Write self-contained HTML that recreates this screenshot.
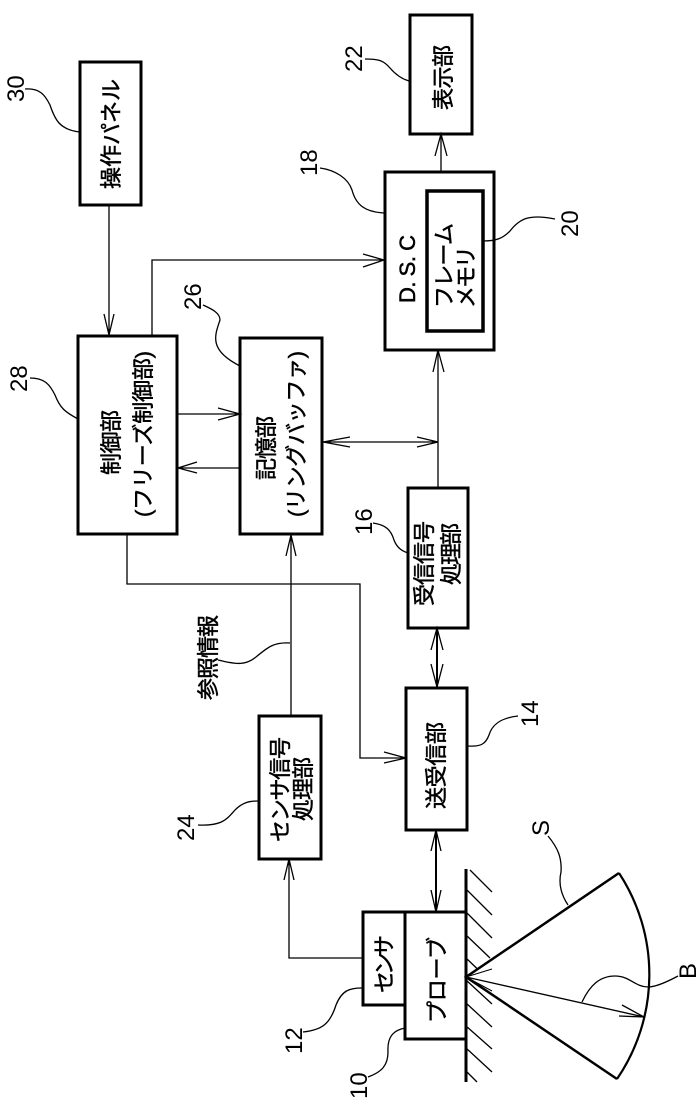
<!DOCTYPE html>
<html><head><meta charset="utf-8"><style>
html,body{margin:0;padding:0;background:#fff}
svg{display:block}
.b{fill:none;stroke:#000;stroke-width:3}
.t{fill:none;stroke:#000;stroke-width:1.3}
.m{fill:none;stroke:#000;stroke-width:2}
text{fill:#000;font-family:"Liberation Sans","Noto Sans CJK JP",sans-serif}
.j{font-size:22px;stroke:#000;stroke-width:.5}
.n{font-size:24px}
</style></head><body>
<svg width="697" height="1099" viewBox="0 0 697 1099" xmlns="http://www.w3.org/2000/svg">
<rect width="697" height="1099" fill="#fff"/>
<!-- boxes -->
<g class="b">
<rect x="80" y="62" width="61" height="143"/>
<rect x="78" y="336" width="99" height="198"/>
<rect x="240" y="338" width="82" height="196"/>
<rect x="410" y="15" width="62" height="119"/>
<rect x="385" y="172" width="109" height="178"/>
<rect x="427" y="191" width="56" height="140" stroke-width="3.5"/>
<rect x="408" y="488" width="60" height="140"/>
<rect x="406" y="688" width="61" height="142"/>
<rect x="259" y="716" width="62" height="143"/>
<rect x="363" y="912" width="42" height="93"/>
<rect x="405" y="912" width="61" height="127"/>
</g>
<path class="b" d="M466 869V1082" stroke-width="3.5"/>
<!-- connectors -->
<g class="t">
<path d="M109 205V335M104 314L109 335L114 314"/>
<path d="M152 336V260H384M363 254L384 260L363 267"/>
<path d="M177 414H240M218 408L240 414L218 420"/>
<path d="M240 468H178M197 462L178 468L197 473"/>
<path d="M322 442H438M350 437L323 442L350 447M417 437L438 442L417 447"/>
<path d="M435 156L441 134L447 156"/>
<path d="M127 534V584H360V758H406M384 752L406 758L384 763"/>
<path d="M291 716V535M286 556L291 535L296 556"/>
<path d="M363 958H289V859M284 880L289 859L294 880"/>
<path d="M433 372L438 350L444 372"/>
<path d="M431 650L437 628L443 650M431 664L437 687L443 664"/>
<path d="M431 851L436 830L441 851M431 890L436 912L441 890"/>
</g>
<g class="t">
<path d="M438 487V350"/>
<path d="M441 172V134"/>
</g>
<g class="m">
<path d="M437 628V687"/>
<path d="M436 830V912"/>
</g>
<!-- hatching -->
<g class="t">
<path d="M470 870L492 892M466 889L492 915M466 912L492 938M466 935L490 958M466 958L490 981M466 980L492 1004M466 1003L492 1027M466 1026L492 1049M466 1048L492 1072M465 1070L477 1082"/>
</g>
<!-- sector -->
<path d="M619 873L466 977L617 1079" fill="#fff" stroke="#000" stroke-width="2.5"/>
<path d="M619 873A185 185 0 0 1 617 1079" fill="none" stroke="#000" stroke-width="2.2"/>
<path class="t" d="M466 977L644 1017M622 1005L644 1017L619 1016"/>
<path d="M466 977L492 969M466 977L492 991" stroke="#000" stroke-width="1"/>
<!-- leaders -->
<g class="t">
<path d="M25 89C40 88 45 95 50 105C55 120 60 130 80 132"/>
<path d="M30 378C45 378 50 385 55 395C60 408 65 412 78 419"/>
<path d="M203 305C212 309 220 313 220 320C215 335 208 350 240 366"/>
<path d="M320 168C335 170 348 178 352 190C356 205 365 212 384 213"/>
<path d="M365 59C378 59 383 60 390 68C396 75 402 79 409 81"/>
<path d="M483 241C497 241 503 238 510 231C520 218 530 214 555 219"/>
<path d="M373 523C386 525 391 530 394 540C397 548 402 551 408 553"/>
<path d="M468 746C482 747 486 743 489 735C492 725 500 718 518 716"/>
<path d="M198 825C222 826 226 820 235 810C243 802 250 801 258 801"/>
<path d="M218 660C238 665 246 665 256 657C268 647 274 642 290 643"/>
<path d="M303 1032C322 1030 330 1024 336 1005C342 990 350 988 362 988"/>
<path d="M368 1077C382 1072 388 1065 388 1052C387 1035 395 1030 405 1028"/>
<path d="M548 836C558 848 562 858 561 872C558 885 562 896 568 905"/>
<path d="M678 976C665 983 655 987 648 987C635 987 630 976 615 976C600 976 590 985 582 1002"/>
</g>
<!-- box labels -->
<g class="j">
<text transform="translate(119,189) rotate(-90)" textLength="110">操作パネル</text>
<text transform="translate(119,475) rotate(-90)" textLength="65">制御部</text>
<text transform="translate(151,517) rotate(-90)" textLength="166">(フリーズ制御部)</text>
<text transform="translate(274,480) rotate(-90)" textLength="64">記憶部</text>
<text transform="translate(304,517) rotate(-90)" textLength="166">(リングバッファ)</text>
<text transform="translate(451,110) rotate(-90)" textLength="65">表示部</text>
<text transform="translate(415,303) rotate(-90)" textLength="68">D. S. C</text>
<text transform="translate(452,308) rotate(-90)" textLength="85">フレーム</text>
<text transform="translate(474,308) rotate(-90)" textLength="62">メモリ</text>
<text transform="translate(432,606) rotate(-90)" textLength="85">受信信号</text>
<text transform="translate(459,585) rotate(-90)" textLength="62">処理部</text>
<text transform="translate(444,809) rotate(-90)" textLength="87">送受信部</text>
<text transform="translate(288,842) rotate(-90)" textLength="105">センサ信号</text>
<text transform="translate(311,821) rotate(-90)" textLength="64">処理部</text>
<text transform="translate(392,993) rotate(-90)" textLength="58">センサ</text>
<text transform="translate(445,1023) rotate(-90)" textLength="86">プローブ</text>
<text transform="translate(216,700) rotate(-90)" textLength="85">参照情報</text>
</g>
<!-- numbers -->
<g class="n">
<text transform="translate(24,102) rotate(-90)">30</text>
<text transform="translate(27,392) rotate(-90)">28</text>
<text transform="translate(201,310) rotate(-90)">26</text>
<text transform="translate(317,176) rotate(-90)">18</text>
<text transform="translate(362,72) rotate(-90)">22</text>
<text transform="translate(578,237) rotate(-90)">20</text>
<text transform="translate(372,535) rotate(-90)">16</text>
<text transform="translate(538,727) rotate(-90)">14</text>
<text transform="translate(194,841) rotate(-90)">24</text>
<text transform="translate(302,1054) rotate(-90)">12</text>
<text transform="translate(367,1099) rotate(-90)">10</text>
<text transform="translate(549,836) rotate(-90)">S</text>
<text transform="translate(696,979) rotate(-90)">B</text>
</g>
</svg>
</body></html>
